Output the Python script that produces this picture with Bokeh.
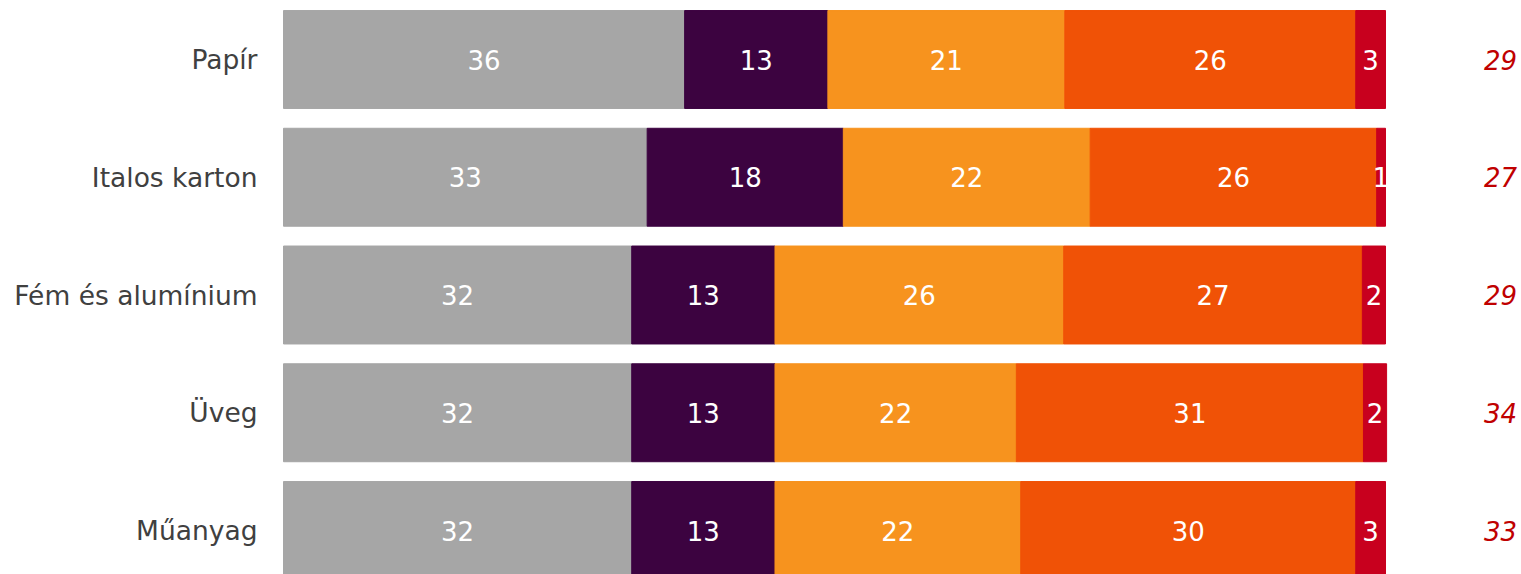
from bokeh.plotting import figure
from bokeh.models import Range1d, ColumnDataSource
from bokeh.core.properties import value
from bokeh.embed import file_html
from bokeh.resources import INLINE

categories = ["Papír", "Italos karton", "Fém és alumínium", "Üveg", "Műanyag"]
seg1 = [36.4, 33.0, 31.6, 31.6, 31.6]
seg2 = [13.0, 17.8, 13.0, 13.0, 13.0]
seg3 = [21.5, 22.4, 26.2, 21.9, 22.3]
seg4 = [26.4, 26.0, 27.1, 31.5, 30.4]
seg5 = [2.7, 0.8, 2.1, 2.1, 2.7]
seg_labels = [
    ["36", "33", "32", "32", "32"],
    ["13", "18", "13", "13", "13"],
    ["21", "22", "26", "22", "22"],
    ["26", "26", "27", "31", "30"],
    ["3", "1", "2", "2", "3"],
]
totals = ["29", "27", "29", "34", "33"]

colors = ["#A6A6A6", "#3C0340", "#F7931E", "#F05206", "#C8001E"]
FONT = "DejaVu Sans"

W, H = 1521, 574
px_per_unit = 11.02
x0_page = 283
xs = -x0_page / px_per_unit
xe = (W - x0_page) / px_per_unit

row_px = 117.75
top_off = 59 / row_px
bot = 4 + (H - 530) / row_px

p = figure(width=W, height=H, output_backend="svg", toolbar_location=None,
           x_range=Range1d(xs, xe), y_range=Range1d(bot, -top_off),
           min_border=0, outline_line_color=None)
p.axis.visible = False
p.grid.visible = False

ys = list(range(len(categories)))
segs = [seg1, seg2, seg3, seg4, seg5]
left = [0.0] * len(categories)
for k, s in enumerate(segs):
    right = [l + v for l, v in zip(left, s)]
    mid = [(l + r) / 2 for l, r in zip(left, right)]
    src = ColumnDataSource(dict(y=ys, left=left, right=right, mid=mid, lab=seg_labels[k]))
    p.hbar(y="y", left="left", right="right", height=0.832, color=colors[k], source=src)
    p.text(x="mid", y="y", text="lab", source=src, text_color="white",
           text_align="center", text_baseline="middle", text_font=value(FONT),
           text_font_size="26px")
    left = right

p.text(x=[-26 / px_per_unit] * len(categories), y=ys, text=categories,
       text_color="#404040", text_align="right", text_baseline="middle",
       text_font=value(FONT), text_font_size="26.5px")

p.text(x=[(1500 - x0_page) / px_per_unit] * len(categories), y=ys, text=totals,
       text_color="#C00000", text_align="center", text_baseline="middle",
       text_font=value(FONT), text_font_size="26px", text_font_style="italic")

open("out.html", "w").write(file_html(p, INLINE))
